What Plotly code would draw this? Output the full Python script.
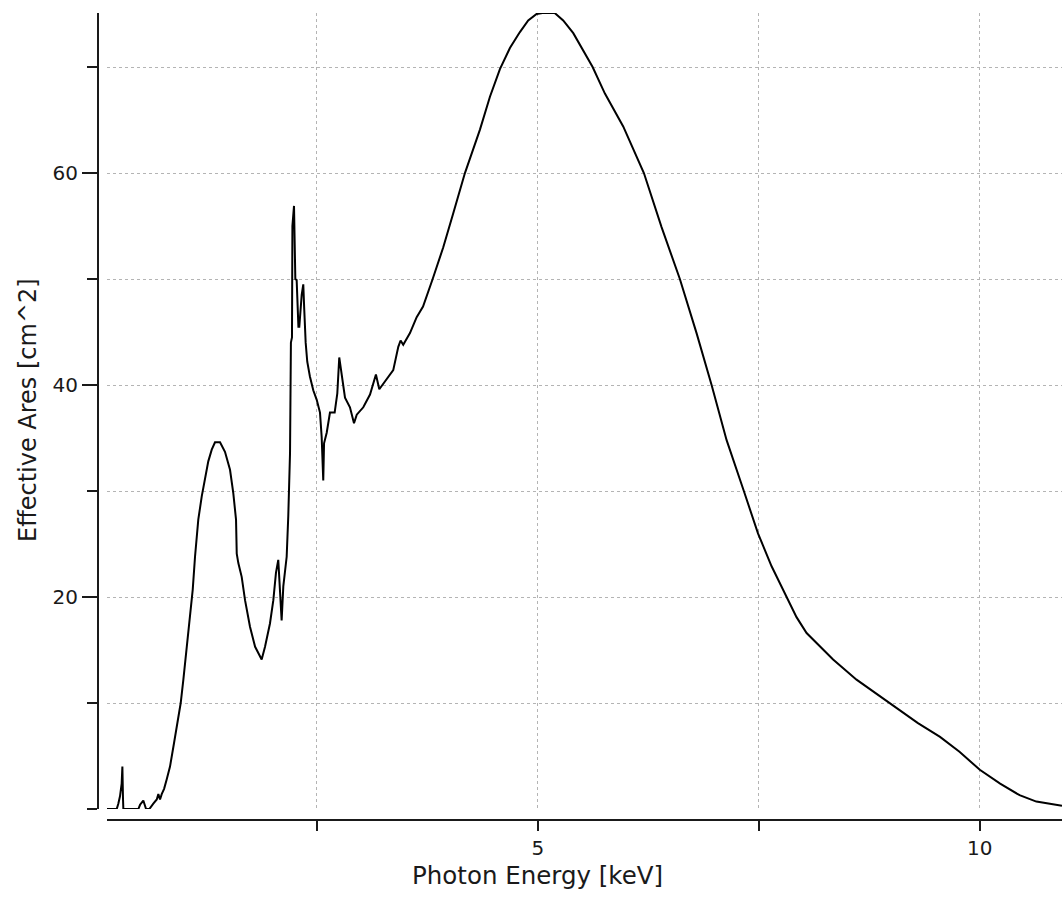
import plotly.graph_objects as go

# Photon energy [keV] and effective area [cm^2]
energy = [0.124, 0.234, 0.252, 0.271, 0.29, 0.298, 0.305, 0.309, 0.328, 0.479,
          0.498, 0.535, 0.566, 0.603, 0.648, 0.687, 0.705, 0.724, 0.743, 0.77,
          0.80, 0.837, 0.882, 0.92, 0.958, 0.988, 1.026, 1.071, 1.094, 1.12,
          1.157, 1.196, 1.233, 1.27, 1.309, 1.346, 1.403, 1.459, 1.516, 1.553,
          1.584, 1.592, 1.61, 1.648, 1.686, 1.742, 1.80, 1.874, 1.912, 1.968,
          2.006, 2.036, 2.062, 2.081, 2.10, 2.119, 2.157, 2.175, 2.195, 2.205,
          2.217, 2.222, 2.24, 2.255, 2.27, 2.29, 2.30, 2.327, 2.345, 2.356,
          2.372, 2.39, 2.42, 2.458, 2.497, 2.534, 2.553, 2.571, 2.58, 2.61,
          2.647, 2.70, 2.73, 2.752, 2.78, 2.817, 2.873, 2.919, 2.95, 3.024,
          3.10, 3.167, 3.205, 3.288, 3.363, 3.42, 3.446, 3.476, 3.552, 3.628,
          3.70, 3.809, 3.929, 4.042, 4.174, 4.344, 4.457, 4.57, 4.683, 4.796,
          4.89, 4.985, 5.05, 5.19, 5.286, 5.40, 5.51, 5.619, 5.758, 5.965,
          6.199, 6.399, 6.606, 6.795, 6.965, 7.135, 7.33, 7.49, 7.644, 7.82,
          7.926, 8.04, 8.19, 8.34, 8.605, 8.98, 9.30, 9.55, 9.77, 10.0,
          10.23, 10.45, 10.64, 10.93]
area = [0.0, 0.0, 0.5, 1.2, 2.4, 4.0, 1.0, 0.0, 0.0, 0.0,
        0.4, 0.8, 0.0, 0.0, 0.5, 0.9, 1.4, 0.9, 1.4, 1.9,
        2.8, 4.0, 6.2, 8.1, 10.0, 12.2, 15.5, 18.8, 20.7, 23.8,
        27.3, 29.5, 31.3, 32.8, 33.9, 34.6, 34.6, 33.7, 32.0, 29.8,
        27.3, 24.1, 23.2, 21.9, 19.7, 17.2, 15.3, 14.1, 15.3, 17.5,
        19.7, 22.3, 23.5, 21.0, 17.8, 21.0, 23.8, 27.6, 33.6, 44.0,
        44.5, 55.0, 56.9, 50.0, 49.9, 45.5, 45.5, 48.5, 49.5, 47.1,
        44.0, 42.2, 40.8, 39.5, 38.6, 37.4, 35.1, 31.0, 34.5, 35.5,
        37.4, 37.4, 39.2, 42.6, 40.8, 38.8, 37.9, 36.4, 37.2, 37.9,
        39.1, 41.0, 39.6, 40.5, 41.4, 43.6, 44.2, 43.8, 44.9, 46.4,
        47.4, 50.0, 53.0, 56.2, 60.0, 64.1, 67.2, 69.8, 71.8, 73.3,
        74.4, 75.0, 75.1, 75.1, 74.4, 73.2, 71.6, 70.0, 67.5, 64.4,
        60.0, 54.9, 50.0, 44.9, 40.0, 34.8, 30.0, 26.0, 22.9, 20.0,
        18.1, 16.6, 15.3, 14.1, 12.2, 10.0, 8.1, 6.8, 5.4, 3.7,
        2.4, 1.3, 0.7, 0.3]

x_major = [5, 10]
x_major_text = ["5", "10"]
y_major = [20, 40, 60]
y_major_text = ["20", "40", "60"]

W, H = 1062, 899
FONT = "DejaVu Sans"
INK = "#1a1a1a"
GRID = "#b4b4b4"

fig = go.Figure()
fig.add_trace(go.Scatter(x=energy, y=area, mode="lines",
                         line=dict(color="black", width=2), showlegend=False))

fig.update_layout(
    width=W, height=H,
    margin=dict(l=0, r=0, t=0, b=0),
    paper_bgcolor="white", plot_bgcolor="white",
    font=dict(family=FONT, color=INK, size=20),
    xaxis=dict(
        domain=[107 / W, 1.0],
        anchor="free", position=(H - 820) / H,
        range=[0.124, 10.93],
        tickmode="array", tickvals=x_major, ticktext=x_major_text,
        ticks="outside", ticklen=10, tickwidth=2, tickcolor=INK,
        showline=True, linewidth=2, linecolor=INK,
        showgrid=True, gridcolor=GRID, gridwidth=1, griddash="dot",
        zeroline=False,
        tickfont=dict(family=FONT, size=20, color=INK),
        minor=dict(tickmode="linear", tick0=0, dtick=2.5, ticks="outside",
                   ticklen=10, tickwidth=2, tickcolor=INK,
                   showgrid=True, gridcolor=GRID, gridwidth=1, griddash="dot"),
    ),
    yaxis=dict(
        domain=[(H - 809) / H, (H - 13) / H],
        anchor="free", position=98 / W,
        range=[0, 75.1],
        tickmode="array", tickvals=y_major, ticktext=y_major_text,
        ticks="outside", ticklen=15, tickwidth=2, tickcolor=INK,
        showline=True, linewidth=2, linecolor=INK,
        showgrid=True, gridcolor=GRID, gridwidth=1, griddash="dot",
        zeroline=False,
        tickfont=dict(family=FONT, size=20, color=INK),
        minor=dict(tickmode="linear", tick0=0, dtick=10, ticks="outside",
                   ticklen=10, tickwidth=2, tickcolor=INK,
                   showgrid=True, gridcolor=GRID, gridwidth=1, griddash="dot"),
    ),
    annotations=[
        dict(text="Photon Energy [keV]", xref="paper", yref="paper",
             x=537 / W, y=(H - 875) / H, xanchor="center", yanchor="middle",
             showarrow=False, font=dict(family=FONT, size=24.5, color=INK)),
        dict(text="Effective Ares [cm^2]", xref="paper", yref="paper",
             x=28 / W, y=(H - 410) / H, xanchor="center", yanchor="middle",
             textangle=-90, showarrow=False,
             font=dict(family=FONT, size=24, color=INK)),
    ],
)

fig.write_html("out.html")
